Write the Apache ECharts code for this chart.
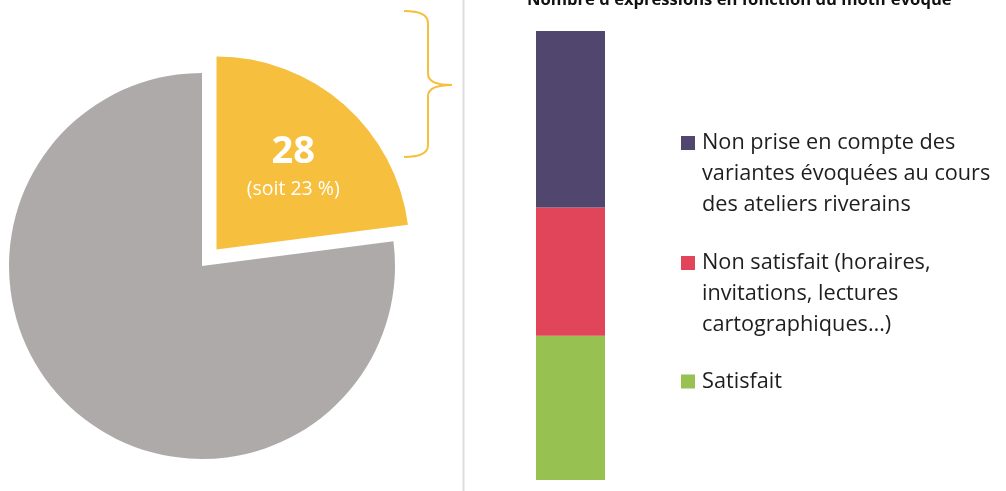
<!DOCTYPE html>
<html>
<head>
<meta charset="utf-8">
<script src="https://cdn.jsdelivr.net/npm/echarts@6/dist/echarts.min.js"></script>
<style>
  html, body { margin: 0; padding: 0; background: #fff; }
  #main { width: 1006px; height: 491px; }
</style>
</head>
<body>
<div id="main"></div>
<script>
// pie : part des expressions liées au motif
const pieNames = ["Motif évoqué", "Autres"];
const pieValues = [28, 94];
const pieColors = ["#F6BF3E", "#AEAAA9"];

// barre empilée : répartition des 28 expressions
const barCategories = ["Motif"];
const barNames = [
  "Satisfait",
  "Non satisfait (horaires,\ninvitations, lectures\ncartographiques…)",
  "Non prise en compte des\nvariantes évoquées au cours\ndes ateliers riverains"
];
const barValues = [9, 8, 11];
const barColors = ["#97C150", "#E0455A", "#51466D"];

const titleText = "Nombre d'expressions en fonction du motif évoqué";
const FONT = "Open Sans";
const LINE_H = 31;

const chart = echarts.init(document.getElementById("main"));

// === légendes : une par série, icône alignée sur la 1re ligne ===
// (une ligne vide en tête pour décaler le bloc de texte vers le bas)
const legendTops = [91.5, 211.5, 370.5];
const legendOrder = [2, 1, 0];
const legends = legendOrder.map((idx, k) => {
  const lines = barNames[idx].split("\n");
  return {
    left: 681,
    top: legendTops[k],
    padding: 0,
    itemWidth: 14,
    itemHeight: 14,
    icon: "rect",
    selectedMode: false,
    data: [barNames[idx]],
    formatter: name => {
      const ls = name.split("\n");
      return (ls.length > 1 ? "{sp| }\n" : "") + ls.map(l => "{t|" + l + "}").join("\n");
    },
    textStyle: {
      rich: {
        sp: { fontSize: 10, lineHeight: Math.max(1, (lines.length - 1) * LINE_H) },
        t: { fontFamily: FONT, fontSize: 21.7, lineHeight: LINE_H, color: "#1e1e1e", padding: [0, 0, 0, 2] }
      }
    }
  };
});

// accolade jaune
const braceStyle = { stroke: "#F6BF3E", lineWidth: 2, fill: null };
const brace = [
  { type: "bezierCurve", shape: { x1: 404, y1: 11, cpx1: 428, cpy1: 11, x2: 428, y2: 23 }, style: braceStyle },
  { type: "line", shape: { x1: 428, y1: 23, x2: 428, y2: 74 }, style: braceStyle },
  { type: "bezierCurve", shape: { x1: 428, y1: 74, cpx1: 428, cpy1: 85, x2: 452, y2: 85 }, style: braceStyle },
  { type: "bezierCurve", shape: { x1: 452, y1: 85, cpx1: 428, cpy1: 85, x2: 428, y2: 96 }, style: braceStyle },
  { type: "line", shape: { x1: 428, y1: 96, x2: 428, y2: 145 }, style: braceStyle },
  { type: "bezierCurve", shape: { x1: 428, y1: 145, cpx1: 428, cpy1: 157, x2: 404, y2: 157 }, style: braceStyle }
];

const option = {
  animation: false,
  title: {
    text: titleText,
    left: 527,
    top: -8,
    padding: 0,
    textStyle: { fontFamily: FONT, fontSize: 16.6, fontWeight: "bold", color: "#111" }
  },
  legend: legends,
  grid: { left: 536, top: 31, width: 69, height: 449 },
  xAxis: { type: "category", data: barCategories, show: false },
  yAxis: { type: "value", min: 0, max: 28, show: false },
  graphic: [
    {
      type: "line",
      shape: { x1: 463.5, y1: 0, x2: 463.5, y2: 491 },
      style: { stroke: "#DDDDDD", lineWidth: 2 }
    },
    ...brace
  ],
  series: [
    {
      type: "pie",
      center: [202, 266],
      radius: 193,
      startAngle: 90,
      clockwise: true,
      selectedMode: "single",
      selectedOffset: 22,
      silent: true,
      emphasis: { disabled: true },
      data: pieNames.map((n, i) => ({
        name: n,
        value: pieValues[i],
        selected: i === 0,
        itemStyle: { color: pieColors[i] },
        label: { show: i === 0 }
      })),
      label: {
        position: "inside",
        padding: [0, 0, 16, 22],
        formatter: p => "{v|" + p.value + "}\n{p|(soit " + Math.round(p.percent) + " %)}",
        rich: {
          v: { fontFamily: FONT, fontSize: 38, fontWeight: "bold", color: "#fff", lineHeight: 46 },
          p: { fontFamily: FONT, fontSize: 19.5, color: "#fff", lineHeight: 30 }
        }
      },
      labelLine: { show: false }
    },
    ...barNames.map((n, i) => ({
      type: "bar",
      name: n,
      stack: "motif",
      barWidth: "100%",
      silent: true,
      itemStyle: { color: barColors[i] },
      data: [barValues[i]]
    }))
  ]
};

chart.setOption(option);
</script>
</body>
</html>
